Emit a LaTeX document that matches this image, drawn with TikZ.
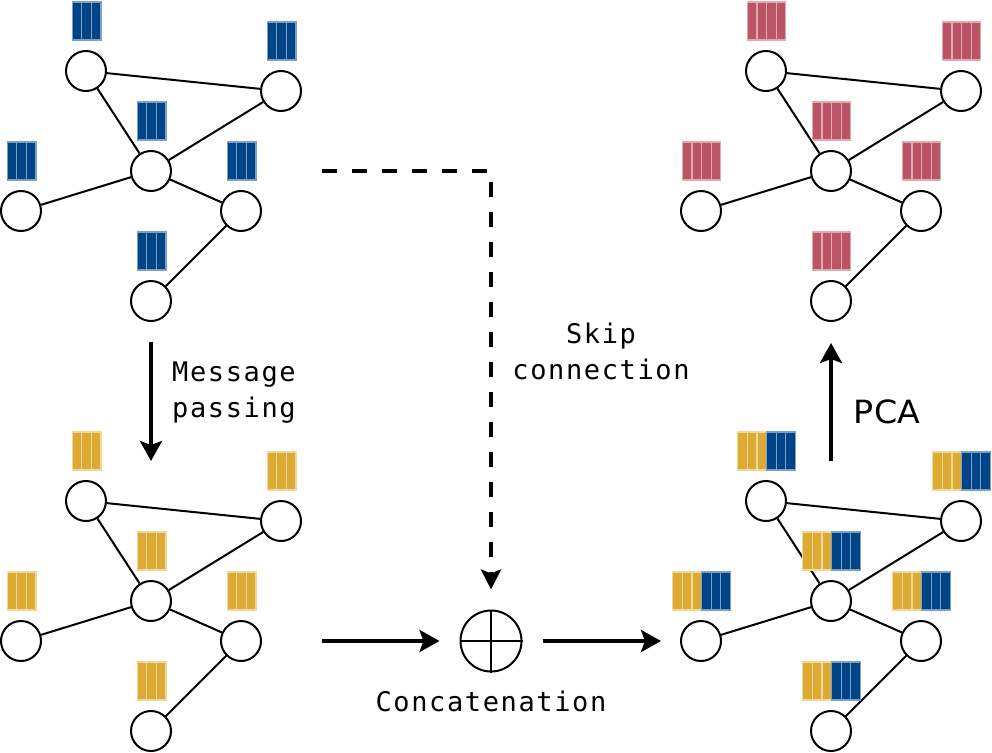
\documentclass[tikz,border=0pt]{standalone}
\usepackage{fontspec}
\usetikzlibrary{arrows.meta,calc}
\newfontfamily\monof[LetterSpace=6]{DejaVu Sans Mono}
\newfontfamily\pcaf{DejaVu Sans}
\definecolor{fblue}{HTML}{004488}
\definecolor{fblueb}{HTML}{7DA0C8}
\definecolor{fyel}{HTML}{DDAA33}
\definecolor{fyelb}{HTML}{F2D89A}
\definecolor{fred}{HTML}{BB5566}
\definecolor{fredb}{HTML}{E3A9B3}
\tikzset{
  gn/.style={circle, draw=black, line width=2pt, minimum size=40pt, inner sep=0pt, fill=white},
  ge/.style={line width=2pt},
  bigarrow/.style={line width=3.5pt, -{Stealth[length=20pt,width=22pt,inset=4pt]}},
  skiparrow/.style={line width=4pt, dash pattern=on 15pt off 15pt, -{Stealth[length=20pt,width=20pt,inset=4pt]}},
  lbl/.style={font=\monof\fontsize{27}{36}\selectfont, inner sep=0pt},
  barbox/.style={line width=1.2pt},
}
\newcommand{\mkgraph}[3]{%
  \node[gn] (#1a) at ({#2+86},{#3+71}) {};
  \node[gn] (#1b) at ({#2+281},{#3+91}) {};
  \node[gn] (#1c) at ({#2+151},{#3+171}) {};
  \node[gn] (#1d) at ({#2+21},{#3+211}) {};
  \node[gn] (#1e) at ({#2+241},{#3+211}) {};
  \node[gn] (#1f) at ({#2+151},{#3+301}) {};
  \draw[ge] (#1a)--(#1b) (#1a)--(#1c) (#1b)--(#1c) (#1c)--(#1d) (#1c)--(#1e) (#1e)--(#1f);
}
\newcommand{\fbars}[3]{%
  \foreach \fc/\bc [count=\i] in {#3} {
    \filldraw[barbox, fill=\fc, draw=\bc] ($(#1.center)+({-#2*4.8+(\i-1)*9.6+0.5},-31)$) rectangle ++(9.6,-38);
  }%
}
\newcommand{\allbars}[3]{%
  \foreach \nn in {a,b,c,d,e,f} {\fbars{#1\nn}{#2}{#3}}%
}
\begin{document}
\begin{tikzpicture}[x=1pt, y=-1pt]
  \useasboundingbox[fill=white] (0,0) rectangle (992,752);
  % graphs
  \mkgraph{tl}{0}{0}
  \mkgraph{bl}{0}{430}
  \mkgraph{tr}{680}{0}
  \mkgraph{br}{680}{430}
  \allbars{tl}{3}{fblue/fblueb,fblue/fblueb,fblue/fblueb}
  \allbars{bl}{3}{fyel/fyelb,fyel/fyelb,fyel/fyelb}
  \allbars{tr}{4}{fred/fredb,fred/fredb,fred/fredb,fred/fredb}
  \allbars{br}{6}{fyel/fyelb,fyel/fyelb,fyel/fyelb,fblue/fblueb,fblue/fblueb,fblue/fblueb}
  % concatenation operator
  \node[circle, draw=black, line width=2pt, minimum size=61pt, inner sep=0pt] (oplus) at (491,641) {};
  \draw[line width=1.8pt] (oplus.north) -- (oplus.south) (oplus.west) -- (oplus.east);
  % free ends
  \coordinate (mpS) at (151,342);
  \coordinate (mpE) at (151,461);
  \coordinate (skS) at (322,171);
  \coordinate (cIn) at (322,641);
  \coordinate (cOut) at (661,641);
  \coordinate (pcaS) at (831,461);
  \coordinate (pcaE) at (831,343);
  % connectors
  \draw[bigarrow] (mpS) -- (mpE);
  \draw[skiparrow, shorten >=20pt] (skS) -| (oplus.north);
  \draw[bigarrow, shorten >=20pt] (cIn) -- (oplus.west);
  \draw[bigarrow, shorten <=20pt] (oplus.east) -- (cOut);
  \draw[bigarrow] (pcaS) -- (pcaE);
  % labels
  \node[lbl, anchor=west, align=left] (mplbl) at (172,393) {Message\\passing};
  \node[lbl, align=center] (sklbl) at (601,351) {Skip\\connection};
  \node[lbl] (catlbl) at (491,701) {Concatenation};
  \node[font=\pcaf\fontsize{32}{38}\selectfont, inner sep=0pt] (pcalbl) at (887,412) {\scalebox{1.04}[1]{PCA}};
\end{tikzpicture}
\end{document}
